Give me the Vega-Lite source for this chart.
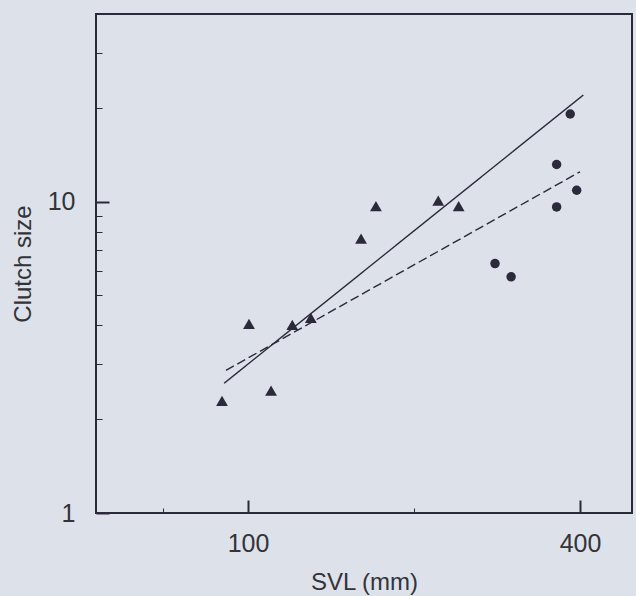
{
  "$schema": "https://vega.github.io/schema/vega-lite/v6.json",
  "width": 536,
  "height": 499,
  "autosize": {"type": "none"},
  "padding": {"left": 96, "top": 14, "right": 4, "bottom": 83},
  "background": "#dde1ea",
  "config": {
    "view": {"stroke": "#2b2a3a", "strokeWidth": 2},
    "font": "Liberation Sans",
    "axis": {
      "domain": false,
      "grid": false,
      "labelFont": "Liberation Sans",
      "titleFont": "Liberation Sans",
      "labelColor": "#333338",
      "titleColor": "#333338",
      "labelFontSize": 25,
      "titleFontSize": 24,
      "titleFontWeight": "normal",
      "tickColor": "#2b2a3a",
      "labelFlush": false,
      "labelOverlap": false
    }
  },
  "datasets": {
    "points": [
      {"svl": 89.7, "clutch": 2.29, "group": "triangle"},
      {"svl": 100.4, "clutch": 4.05, "group": "triangle"},
      {"svl": 110.1, "clutch": 2.47, "group": "triangle"},
      {"svl": 120.3, "clutch": 4.02, "group": "triangle"},
      {"svl": 130, "clutch": 4.23, "group": "triangle"},
      {"svl": 160.3, "clutch": 7.6, "group": "triangle"},
      {"svl": 170.6, "clutch": 9.66, "group": "triangle"},
      {"svl": 221.3, "clutch": 10.07, "group": "triangle"},
      {"svl": 241, "clutch": 9.66, "group": "triangle"},
      {"svl": 384, "clutch": 19.1, "group": "circle"},
      {"svl": 362.8, "clutch": 13.15, "group": "circle"},
      {"svl": 394.5, "clutch": 10.87, "group": "circle"},
      {"svl": 362.8, "clutch": 9.61, "group": "circle"},
      {"svl": 280.5, "clutch": 6.32, "group": "circle"},
      {"svl": 300, "clutch": 5.73, "group": "circle"}
    ],
    "lines": [
      {"svl": 90.5, "clutch": 2.61, "fit": "solid"},
      {"svl": 405.5, "clutch": 21.97, "fit": "solid"},
      {"svl": 91.2, "clutch": 2.87, "fit": "dashed"},
      {"svl": 400, "clutch": 12.46, "fit": "dashed"}
    ]
  },
  "layer": [
    {
      "data": {"name": "lines"},
      "mark": {"type": "line", "color": "#2b2a3a", "strokeWidth": 1.4},
      "encoding": {
        "x": {
          "field": "svl", "type": "quantitative",
          "scale": {"type": "log", "domain": [53, 497], "nice": false},
          "axis": {
            "title": "SVL (mm)",
            "values": [70, 100, 200, 400],
            "format": "d",
            "labelExpr": "datum.value == 100 || datum.value == 400 ? datum.label : ''",
            "tickSize": {"condition": {"test": "datum.value == 100 || datum.value == 400", "value": -13}, "value": -5},
            "tickWidth": {"condition": {"test": "datum.value == 100 || datum.value == 400", "value": 2}, "value": 1},
            "labelPadding": 31,
            "titlePadding": 6
          }
        },
        "y": {
          "field": "clutch", "type": "quantitative",
          "scale": {"type": "log", "domain": [1, 40], "nice": false},
          "axis": {
            "title": "Clutch size",
            "values": [1, 2, 3, 4, 5, 6, 7, 8, 9, 10, 20, 30],
            "format": "d",
            "labelExpr": "datum.value == 1 || datum.value == 10 ? datum.label : ''",
            "tickSize": {"condition": {"test": "datum.value == 1 || datum.value == 10", "value": -13}, "value": -6},
            "tickWidth": {"condition": {"test": "datum.value == 1 || datum.value == 10", "value": 2}, "value": 1},
            "labelPadding": 34,
            "titlePadding": 12
          }
        },
        "strokeDash": {
          "field": "fit", "type": "nominal",
          "scale": {"domain": ["solid", "dashed"], "range": [[1, 0], [9, 4]]},
          "legend": null
        },
        "detail": {"field": "fit", "type": "nominal"}
      }
    },
    {
      "data": {"name": "points"},
      "mark": {"type": "point", "filled": true, "opacity": 1, "color": "#2b2a3a"},
      "encoding": {
        "x": {"field": "svl", "type": "quantitative", "scale": {"type": "log", "domain": [53, 497], "nice": false}},
        "y": {"field": "clutch", "type": "quantitative", "scale": {"type": "log", "domain": [1, 40], "nice": false}},
        "shape": {
          "field": "group", "type": "nominal",
          "scale": {"domain": ["triangle", "circle"], "range": ["triangle-up", "circle"]},
          "legend": null
        },
        "size": {
          "field": "group", "type": "nominal",
          "scale": {"domain": ["triangle", "circle"], "range": [140, 90]},
          "legend": null
        }
      }
    }
  ]
}
